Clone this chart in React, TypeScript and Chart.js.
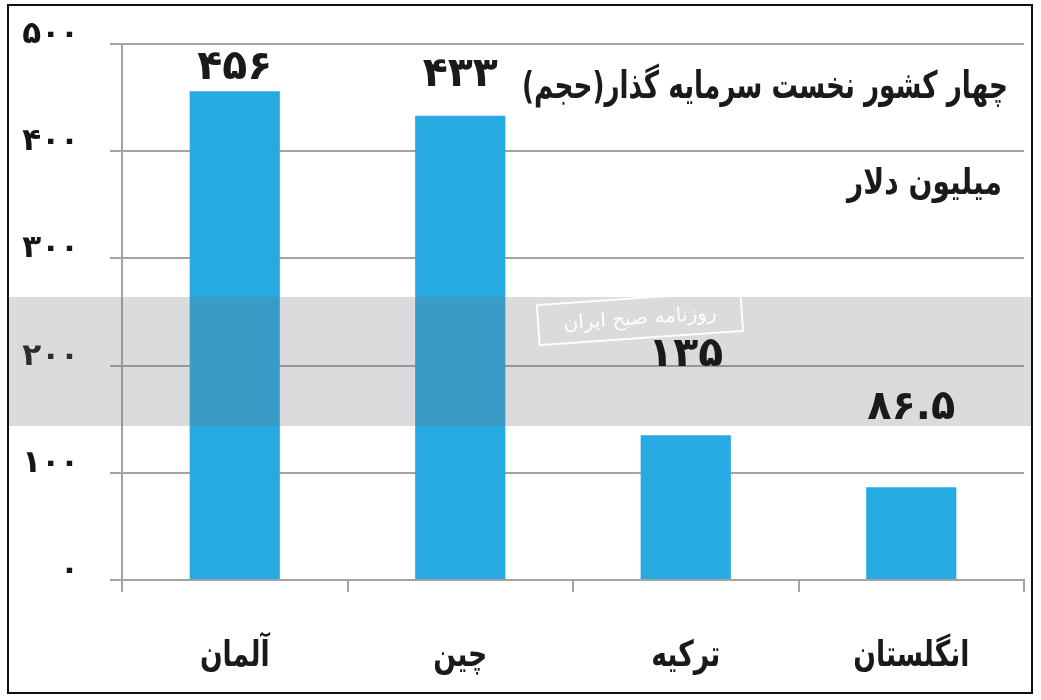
import React, { useEffect, useRef } from "react";
import { Chart, registerables } from "chart.js";

Chart.register(...registerables);

const categories = ["آلمان", "چین", "ترکیه", "انگلستان"];
const values = [456, 433, 135, 86.5];
const valueLabels = ["۴۵۶", "۴۳۳", "۱۳۵", "۸۶.۵"];
const yTickValues = [0, 100, 200, 300, 400, 500];
const titleText = "چهار کشور نخست سرمایه گذار(حجم)";
const unitText = "میلیون دلار";
const watermarkText = "روزنامه صبح ایران";

const FONT = "'DejaVu Sans', sans-serif";
const toFa = (n: number | string) =>
  String(n).replace(/\d/g, (d) => "۰۱۲۳۴۵۶۷۸۹"[+d]);

// gap (px) between top of each bar and its value label
const labelLift = [2, 20, 59, 58];

const decorPlugin = {
  id: "decor",
  beforeDraw(chart: any) {
    const { ctx, width, height } = chart;
    ctx.save();
    ctx.fillStyle = "#ffffff";
    ctx.fillRect(0, 0, width, height);
    ctx.restore();
  },
  afterDatasetsDraw(chart: any) {
    const { ctx } = chart;
    ctx.save();
    // watermark band
    ctx.fillStyle = "rgba(115,115,125,0.26)";
    ctx.fillRect(9, 297, 1022, 129);
    // watermark tag
    ctx.translate(640, 318);
    ctx.rotate(-0.07);
    ctx.strokeStyle = "rgba(255,255,255,0.95)";
    ctx.lineWidth = 2;
    ctx.strokeRect(-102, -20, 204, 40);
    ctx.fillStyle = "rgba(255,255,255,0.95)";
    ctx.font = `20px ${FONT}`;
    ctx.textAlign = "center";
    ctx.textBaseline = "middle";
    ctx.direction = "rtl";
    ctx.fillText(watermarkText, 0, 1, 185);
    ctx.restore();
  },
  afterDraw(chart: any) {
    const { ctx } = chart;
    const meta = chart.getDatasetMeta(0);
    const xScale = chart.scales.x;
    ctx.save();
    ctx.fillStyle = "#1a1a1a";
    ctx.textAlign = "center";
    ctx.textBaseline = "bottom";
    ctx.font = `bold 41px ${FONT}`;
    meta.data.forEach((bar: any, i: number) => {
      ctx.fillText(valueLabels[i], bar.x, bar.y - labelLift[i], 88);
    });
    // category labels (condensed)
    ctx.font = `bold 36px ${FONT}`;
    ctx.textBaseline = "middle";
    ctx.direction = "rtl";
    categories.forEach((c, i) => {
      const x = xScale.getPixelForValue(i);
      ctx.save();
      ctx.translate(x, 657);
      ctx.scale(0.74, 1);
      ctx.textAlign = "center";
      ctx.fillText(c, 0, 0);
      ctx.restore();
    });
    ctx.textAlign = "right";
    ctx.font = `bold 38px ${FONT}`;
    ctx.fillText(titleText, 1008, 88, 486);
    ctx.font = `bold 36px ${FONT}`;
    ctx.fillText(unitText, 1002, 185, 155);
    // outer frame
    ctx.strokeStyle = "#111";
    ctx.lineWidth = 2;
    ctx.strokeRect(8, 5, 1024, 688);
    ctx.restore();
  },
};

export default function App() {
  const ref = useRef<HTMLCanvasElement | null>(null);
  useEffect(() => {
    document.body.style.margin = "0";
    if (!ref.current) return;
    const grid = "#a3a3a3";
    const chart = new Chart(ref.current, {
      type: "bar",
      data: {
        labels: categories,
        datasets: [
          {
            data: values,
            backgroundColor: "#27aae1",
            borderWidth: 0,
            categoryPercentage: 1,
            barPercentage: 0.4,
          },
        ],
      },
      options: {
        responsive: false,
        animation: false,
        devicePixelRatio: 1,
        layout: { padding: { left: 0, top: 44, right: 17, bottom: 0 } },
        plugins: { legend: { display: false }, tooltip: { enabled: false } },
        scales: {
          y: {
            min: 0,
            max: 500,
            afterBuildTicks: (s: any) => {
              s.ticks = yTickValues.map((v) => ({ value: v }));
            },
            afterFit: (s: any) => {
              s.width = 122;
              s.paddingTop = 0;
              s.paddingBottom = 0;
            },
            ticks: {
              callback: (v: any) => toFa(v),
              color: "#151515",
              font: { family: FONT, size: 31, weight: "bold" },
              padding: 31,
              labelOffset: -9,
            },
            grid: { color: grid, lineWidth: 2, tickLength: 12 },
            border: { display: true, color: grid, width: 2 },
          },
          x: {
            afterFit: (s: any) => {
              s.height = 120;
              s.paddingLeft = 0;
              s.paddingRight = 0;
            },
            ticks: { display: false },
            grid: {
              offset: true,
              drawOnChartArea: false,
              color: grid,
              lineWidth: 2,
              tickLength: 12,
            },
            border: { display: true, color: grid, width: 2 },
          },
        },
      },
      plugins: [decorPlugin],
    } as any);
    return () => chart.destroy();
  }, []);
  return <canvas ref={ref} width={1041} height={700} style={{ display: "block" }} />;
}
